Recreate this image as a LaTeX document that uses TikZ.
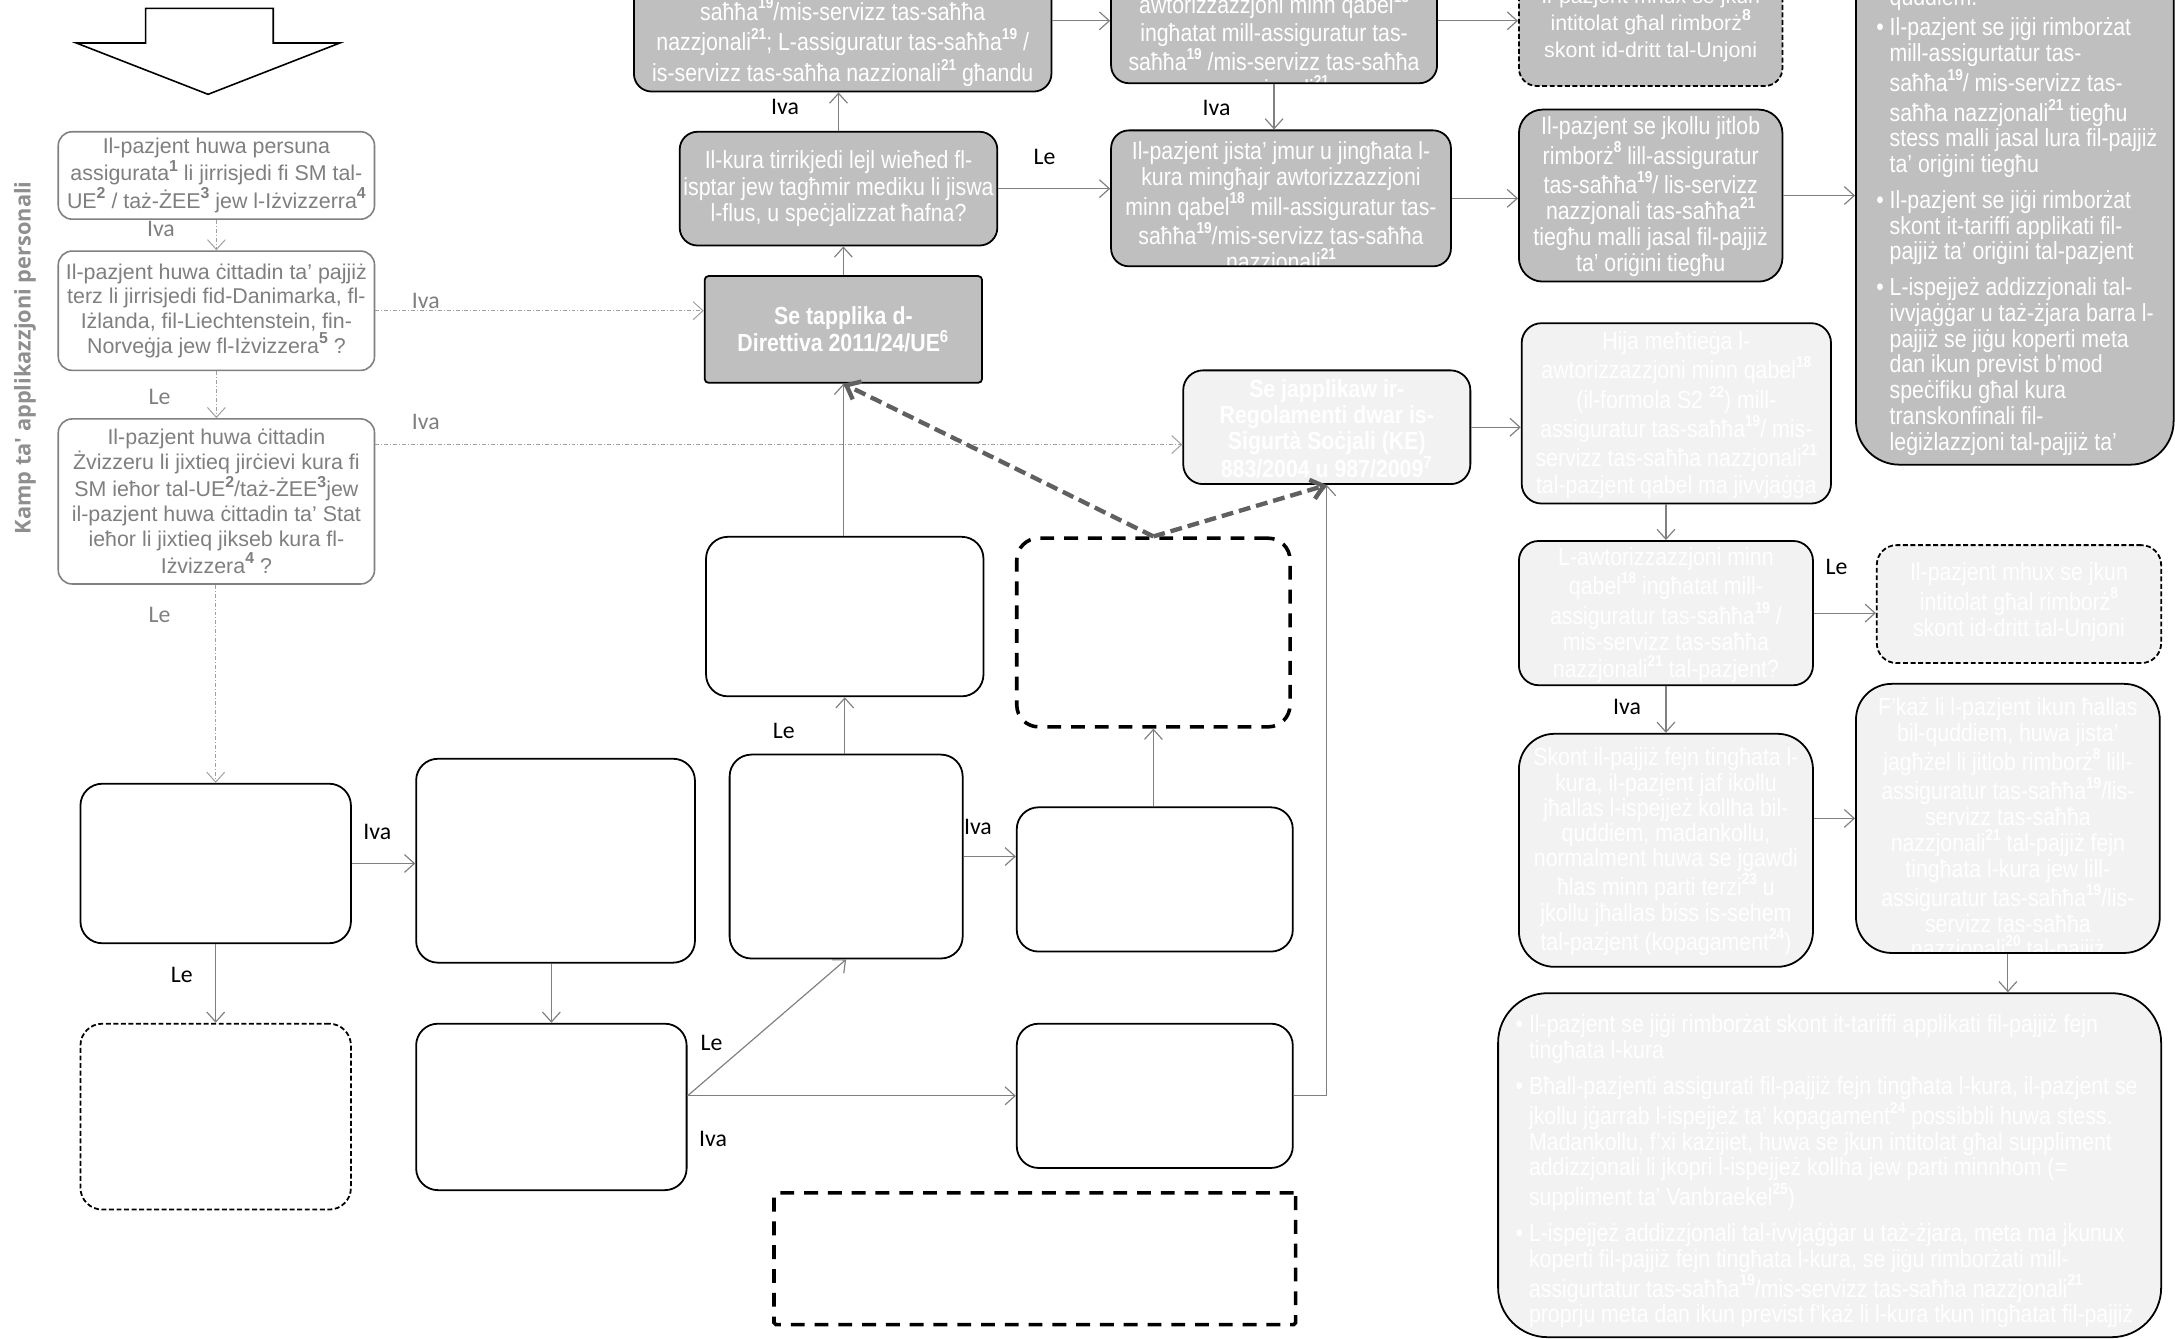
\documentclass[tikz,border=0pt]{standalone}
\usepackage{fontspec}
\setmainfont{Liberation Sans}
\newfontfamily\narrowfont[FakeStretch=0.86]{Liberation Sans}
\newfontfamily\labfont{Carlito}
\newfontfamily\campfont{Open Sans}
\usetikzlibrary{arrows.meta,calc}

\definecolor{boxgray}{HTML}{BFBFBF}
\definecolor{boxlight}{HTML}{F2F2F2}
\definecolor{linegray}{HTML}{808080}
\definecolor{textgray}{HTML}{7F7F7F}
\definecolor{dotgray}{HTML}{A0A0A0}
\definecolor{dashgray}{HTML}{606060}
\definecolor{campgray}{HTML}{8F8F8F}

\newcommand{\fn}[1]{\raisebox{0.45em}{\fontsize{8}{9}\selectfont\bfseries #1}}

\tikzset{
  sz/.style 2 args={minimum width=#1*0.7pt, minimum height=#2*0.7pt},
  lbox/.style={draw=linegray, fill=white, line width=0.8pt, rounded corners=7pt, inner sep=0pt},
  wbox/.style={draw=black, fill=white, line width=0.9pt, rounded corners=11pt, inner sep=0pt},
  gbox/.style={draw=black, fill=boxgray, line width=0.9pt, rounded corners=9pt, inner sep=0pt},
  pbox/.style={draw=black, fill=boxlight, line width=0.9pt, rounded corners=10pt, inner sep=0pt},
  thindash/.style={dash pattern=on 2.5pt off 1.3pt},
  bigdash/.style={line width=1.8pt, dash pattern=on 7pt off 5pt},
  ltxt/.style={font=\fontsize{10.8}{12.5}\selectfont, text=textgray, align=center},
  ntxt/.style={font=\narrowfont\fontsize{12.5}{13.2}\selectfont, text=white, align=center,
    inner sep=0pt, minimum width=0pt, minimum height=0pt},
  rtxt/.style={ntxt, font=\fontsize{10.8}{13.5}\selectfont},
  btxt/.style={font=\narrowfont\fontsize{12.5}{13}\selectfont, text=white, anchor=north west,
    inner sep=0pt, minimum width=0pt, minimum height=0pt},
  lab/.style={font=\labfont\fontsize{12}{14}\selectfont, inner sep=0pt},
  camp/.style={font=\campfont\bfseries\fontsize{11}{13}\selectfont, text=campgray, rotate=90, inner sep=0pt},
  arr/.style={draw=linegray, line width=0.6pt, -{Straight Barb[length=5pt,width=9pt]}},
  dotarr/.style={draw=dotgray, line width=0.5pt, dash pattern=on 2pt off 1pt on 0.5pt off 1pt,
    -{Straight Barb[length=5pt,width=9pt]}},
  tharr/.style={draw=dashgray, line width=2.2pt, dash pattern=on 6pt off 3pt,
    -{Straight Barb[length=6pt,width=10pt]}},
}

\begin{document}
\begin{tikzpicture}[x=0.7pt, y=-0.7pt]
\useasboundingbox (0,0) rectangle (1568,965);
\clip (0,0) rectangle (1568,965);

% start arrow
\draw[line width=0.8pt, fill=white] (105,6) -- (197,6) -- (197,31) -- (245,31) -- (150,68)
  -- (55,31) -- (105,31) -- cycle;
\node[camp] (camp) at (18,258) {Kamp ta' applikazzjoni personali};

% left column
\node[lbox, sz={228}{63}, ltxt] (l1) at (156,126.5)
  {Il-pazjent huwa persuna\\assigurata\fn{1} li jirrisjedi fi SM tal-\\UE\fn{2} / taż-ŻEE\fn{3} jew l-Iżvizzerra\fn{4}};
\node[lbox, sz={228}{86}, ltxt] (l2) at (156,224)
  {Il-pazjent huwa ċittadin ta’ pajjiż\\terz li jirrisjedi fid-Danimarka, fl-\\Iżlanda, fil-Liechtenstein, fin-\\Norveġja jew fl-Iżvizzera\fn{5} ?};
\node[lbox, sz={228}{119}, ltxt] (l3) at (156,361.5)
  {Il-pazjent huwa ċittadin\\Żvizzeru li jixtieq jirċievi kura fi\\SM ieħor tal-UE\fn{2}/taż-ŻEE\fn{3}jew\\il-pazjent huwa ċittadin ta’ Stat\\ieħor li jixtieq jikseb kura fl-\\Iżvizzera\fn{4} ?};

% empty boxes
\node[wbox, sz={195}{115}] (a) at (155.5,622.5) {};
\node[wbox, thindash, sz={195}{134}] (ad) at (155.5,805) {};
\node[wbox, sz={201}{147}] (b) at (400.5,620.5) {};
\node[wbox, sz={195}{120}] (c) at (397.5,798) {};
\node[wbox, sz={168}{147}] (d) at (610,617.5) {};
\node[wbox, sz={200}{115}] (e) at (609,444.5) {};
\node[wbox, sz={199}{104}] (f) at (832.5,634) {};
\node[wbox, bigdash, sz={197}{136}] (gd) at (831.5,456) {};
\node[wbox, sz={199}{104}] (g) at (832.5,790) {};
\node[wbox, bigdash, rounded corners=1pt, sz={376}{95}] (bx) at (746,907.5) {};

% directive branch
\node[gbox, rounded corners=2pt, sz={200}{77}, path picture={\node[ntxt, font=\narrowfont\bfseries\fontsize{12.5}{13.5}\selectfont] (dir-txt)
  at (path picture bounding box.center) {Se tapplika d-\\Direttiva 2011/24/UE\textsuperscript{6}};}] (dir) at (608,237.5) {};
\node[gbox, sz={229}{82}, path picture={\node[ntxt] (k-txt) at (path picture bounding box.center)
  {Il-kura tirrikjedi lejl wieħed fl-\\isptar jew tagħmir mediku li jiswa\\l-flus, u speċjalizzat ħafna?};}] (k) at (604.5,136) {};
\node[gbox, sz={301}{102}, path picture={\node[ntxt, font=\narrowfont\fontsize{12.5}{15.5}\selectfont] (t1-txt)
  at ([yshift=-10.85pt]path picture bounding box.center)
  {saħħa\fn{19}/mis-servizz tas-saħħa\\nazzjonali\fn{21}; L-assiguratur tas-saħħa\fn{19} /\\is-servizz tas-saħħa nazzionali\fn{21} għandu};}] (t1) at (607.5,15) {};
\node[gbox, sz={235}{90}, path picture={\node[ntxt, font=\narrowfont\fontsize{12.5}{13.7}\selectfont] (t2-txt)
  at ([yshift=-13.3pt]path picture bounding box.center)
  {awtorizzazzjoni minn qabel\fn{18}\\ingħatat mill-assiguratur tas-\\saħħa\fn{19} /mis-servizz tas-saħħa\\nazzjonali\fn{21}};}] (t2) at (918.5,15) {};
\node[gbox, sz={245}{98}, path picture={\node[ntxt] (m-txt) at ([yshift=-5.2pt]path picture bounding box.center)
  {Il-pazjent jista’ jmur u jingħata l-\\kura mingħajr awtorizzazzjoni\\minn qabel\fn{18} mill-assiguratur tas-\\saħħa\fn{19}/mis-servizz tas-saħħa\\nazzjonali\fn{21}};}] (m) at (923.5,143) {};
\node[gbox, thindash, sz={190}{94}, path picture={\node[rtxt] (t3-txt) at ([yshift=-2.1pt]path picture bounding box.center)
  {Il-pazjent mhux se jkun\\intitolat għal rimborż\fn{8}\\skont id-dritt tal-Unjoni};}] (t3) at (1190,15) {};
\node[gbox, rounded corners=12pt, sz={190}{124}, path picture={\node[ntxt] (n-txt) at ([yshift=-0.7pt]path picture bounding box.center)
  {Il-pazjent se jkollu jitlob\\rimborż\fn{8} lill-assiguratur\\tas-saħħa\fn{19}/ lis-servizz\\nazzjonali tas-saħħa\fn{21}\\tiegħu malli jasal fil-pajjiż\\ta’ oriġini tiegħu};}] (n) at (1190,141) {};
\node[gbox, rounded corners=22pt, sz={229}{395}, path picture={\node[btxt] (p-txt)
  at ([xshift=9.8pt, yshift=-35.4pt]path picture bounding box.north west)
  {\begin{tabular}{@{}l@{\hspace{3pt}}l@{}}
   & quddiem.\\[2pt]
   \textbullet & Il-pazjent se jiġi rimborżat\\
   & mill-assigurtatur tas-\\
   & saħħa\fn{19}/ mis-servizz tas-\\
   & saħħa nazzjonali\fn{21} tiegħu\\
   & stess malli jasal lura fil-pajjiż\\
   & ta’ oriġini tiegħu\\[5pt]
   \textbullet & Il-pazjent se jiġi rimborżat\\
   & skont it-tariffi applikati fil-\\
   & pajjiż ta’ oriġini tal-pazjent\\[5pt]
   \textbullet & L-ispejjeż addizzjonali tal-\\
   & ivvjaġġar u taż-żjara barra l-\\
   & pajjiż se jiġu koperti meta\\
   & dan ikun previst b’mod\\
   & speċifiku għal kura\\
   & transkonfinali fil-\\
   & leġiżlazzjoni tal-pajjiż ta’
   \end{tabular}};}] (p) at (1452.5,137.5) {};

% regulation branch
\node[pbox, sz={207}{82}, path picture={\node[ntxt, font=\narrowfont\bfseries\fontsize{12.5}{13}\selectfont] (reg-txt)
  at ([yshift=-0.7pt]path picture bounding box.center)
  {Se japplikaw ir-\\Regolamenti dwar is-\\Sigurtà Soċjali (KE)\\883/2004 u 987/2009\textsuperscript{7}};}] (reg) at (956.5,308) {};
\node[pbox, sz={223}{130}, path picture={\node[ntxt, font=\narrowfont\fontsize{12.5}{13.7}\selectfont] (q-txt)
  at ([yshift=-1pt]path picture bounding box.center)
  {Hija meħtieġa l-\\awtorizzazzjoni minn qabel\fn{18}\\(il-formola S2 \fn{22}) mill-\\assiguratur tas-saħħa\fn{19}/ mis-\\servizz tas-saħħa nazzjonali\fn{21}\\tal-pazjent qabel ma jivvjaġġa};}] (q) at (1208.5,298) {};
\node[pbox, sz={212}{104}, path picture={\node[ntxt, font=\narrowfont\fontsize{12.5}{13.5}\selectfont] (r-txt)
  at ([yshift=-1.05pt]path picture bounding box.center)
  {L-awtorizzazzjoni minn\\qabel\fn{18} ingħatat mill-\\assiguratur tas-saħħa\fn{19} /\\mis-servizz tas-saħħa\\nazzjonali\fn{21} tal-pazjent?};}] (r) at (1201,442) {};
\node[pbox, thindash, sz={205}{85}, path picture={\node[ntxt] (s-txt) at ([yshift=1.05pt]path picture bounding box.center)
  {Il-pazjent mhux se jkun\\intitolat għal rimborż\fn{8}\\skont id-dritt tal-Unjoni};}] (s) at (1455.5,435.5) {};
\node[pbox, rounded corners=18pt, sz={212}{168}, path picture={\node[ntxt, font=\narrowfont\fontsize{12.5}{12.7}\selectfont] (u-txt)
  at ([yshift=-0.7pt]path picture bounding box.center)
  {Skont il-pajjiż fejn tingħata l-\\kura, il-pazjent jaf ikollu\\jħallas l-ispejjeż kollha bil-\\quddiem, madankollu,\\normalment huwa se jgawdi\\ħlas minn parti terzi\fn{23} u\\jkollu jħallas biss is-sehem\\tal-pazjent (kopagament\fn{24})};}] (u) at (1201,613) {};
\node[pbox, rounded corners=18pt, sz={219}{194}, path picture={\node[ntxt, font=\narrowfont\fontsize{12.5}{13}\selectfont] (v-txt)
  at ([yshift=-6pt]path picture bounding box.center)
  {F’każ li l-pazjent ikun ħallas\\bil-quddiem, huwa jista’\\jagħżel li jitlob rimborż\fn{8} lill-\\assiguratur tas-saħħa\fn{19}/lis-\\servizz tas-saħħa\\nazzjonali\fn{21} tal-pajjiż fejn\\tingħata l-kura jew lill-\\assiguratur tas-saħħa\fn{19}/lis-\\servizz tas-saħħa\\nazzjonali\fn{20} tal-pajjiż};}] (v) at (1447.5,590) {};
\node[pbox, rounded corners=25pt, sz={478}{248}, path picture={\node[btxt] (w-txt)
  at ([xshift=8.4pt, yshift=-10.5pt]path picture bounding box.north west)
  {\begin{tabular}{@{}l@{\hspace{3pt}}l@{}}
   \textbullet & Il-pazjent se jiġi rimborżat skont it-tariffi applikati fil-pajjiż fejn\\
   & tingħata l-kura\\[5pt]
   \textbullet & Bħall-pazjenti assigurati fil-pajjiż fejn tingħata l-kura, il-pazjent se\\
   & jkollu jġarrab l-ispejjeż ta’ kopagament\fn{24} possibbli huwa stess.\\
   & Madankollu, f’xi każijiet, huwa se jkun intitolat għal suppliment\\
   & addizzjonali li jkopri l-ispejjeż kollha jew parti minnhom (=\\
   & suppliment ta’ Vanbraekel\fn{25})\\[5pt]
   \textbullet & L-ispejjeż addizzjonali tal-ivvjaġġar u taż-żjara, meta ma jkunux\\
   & koperti fil-pajjiż fejn tingħata l-kura, se jiġu rimborżati mill-\\
   & assigurtatur tas-saħħa\fn{19}/mis-servizz tas-saħħa nazzjonali\fn{21}\\
   & proprju meta dan ikun previst f’każ li l-kura tkun ingħatat fil-pajjiż
   \end{tabular}};}] (w) at (1319,840) {};

% connectors, left column
\coordinate (l3o) at ([yshift=28.7pt]l3.east);
\draw[dotarr] (l1.south) -- (l2.north);
\draw[dotarr] (l2.south) -- (l3.north);
\draw[dotarr] (l2.east) -- (l2.east -| dir.west);
\draw[dotarr] (l3o) -- (l3o -| reg.west);
\draw[dotarr] (a.north |- l3.south) -- (a.north);

% connectors, empty boxes
\draw[arr] (a.east) -- (a.east -| b.west);
\draw[arr] (a.south) -- (ad.north);
\draw[arr] (c.north |- b.south) -- (c.north);
\draw[arr] (c.east |- g.west) -- (d.south);
\draw[arr] (c.east |- g.west) -- (g.west);
\draw[arr] (e.south |- d.north) -- (e.south);
\draw[arr] (dir.south |- e.north) -- (dir.south);
\draw[arr] (d.east) -- (d.east -| f.west);
\draw[arr] (gd.south |- f.north) -- (gd.south);
\draw[arr] (g.east) -| (reg.south);
\draw[tharr] (gd.north) -- (dir.south);
\draw[tharr] (gd.north) -- (reg.south);

% connectors, top part
\draw[arr] (dir.north) -- (dir.north |- k.south);
\draw[arr] (k.north) -- (k.north |- t1.south);
\draw[arr] (k.east) -- (k.east -| m.west);
\draw[arr] (t1.east) -- (t2.west);
\draw[arr] (t2.south) -- (t2.south |- m.north);
\draw[arr] (t2.east) -- (t3.west);
\draw[arr] (m.east) -- (m.east -| n.west);
\draw[arr] (n.east) -- (n.east -| p.west);

% connectors, right part
\draw[arr] (reg.east) -- (reg.east -| q.west);
\draw[arr] (r.north |- q.south) -- (r.north);
\draw[arr] (r.east) -- (r.east -| s.west);
\draw[arr] (r.south) -- (u.north);
\draw[arr] (u.east |- v.west) -- (v.west);
\draw[arr] (v.south) -- (v.south |- w.north);

% answers
\node[lab, text=textgray] (iva1) at (116,165) {Iva};
\node[lab, text=textgray] (iva2) at (307,217) {Iva};
\node[lab, text=textgray] (le1) at (115,286) {Le};
\node[lab, text=textgray] (iva3) at (307,304) {Iva};
\node[lab, text=textgray] (le2) at (115,443) {Le};
\node[lab] (iva4) at (272,600) {Iva};
\node[lab] (le3) at (131,703) {Le};
\node[lab] (le4) at (513,752) {Le};
\node[lab] (iva5) at (514,821) {Iva};
\node[lab] (le5) at (565,527) {Le};
\node[lab] (iva6) at (705,596) {Iva};
\node[lab] (iva7) at (566,77) {Iva};
\node[lab] (le6) at (753,113) {Le};
\node[lab] (iva8) at (877,78) {Iva};
\node[lab] (le7) at (1324,409) {Le};
\node[lab] (iva9) at (1173,510) {Iva};
\end{tikzpicture}
\end{document}
